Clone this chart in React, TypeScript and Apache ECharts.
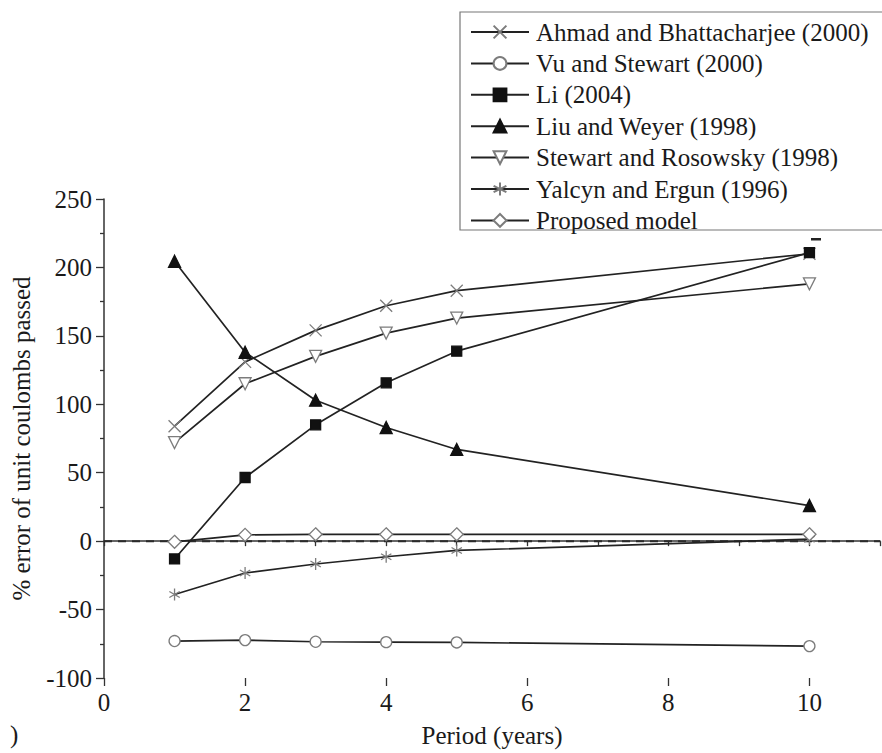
import React, { useEffect, useRef } from "react";
import * as echarts from "echarts";

const periods = [1, 2, 3, 4, 5, 10];
const ahmad = [84, 131, 154, 172, 183, 210];
const vuStewart = [-73, -72.3, -73.5, -73.8, -74, -76.7];
const li2004 = [-13, 46.5, 85, 115.7, 138.8, 210.8];
const liuWeyer = [204.5, 138, 103, 83, 67, 26];
const stewartRosowsky = [72, 115, 135, 152, 163, 188];
const yalcyn = [-39, -23.3, -16.7, -11.4, -6.8, 1.5];
const proposed = [-0.5, 4.6, 5, 5, 5, 5];
const zeroLineX = [0, 11];
const zeroLineY = [0, 0];

const seriesNames = [
  "Ahmad and Bhattacharjee (2000)",
  "Vu and Stewart (2000)",
  "Li (2004)",
  "Liu and Weyer (1998)",
  "Stewart and Rosowsky (1998)",
  "Yalcyn and Ergun (1996)",
  "Proposed model",
];
const xLabelValues = [0, 2, 4, 6, 8, 10];

const FONT = "'Liberation Serif', 'Times New Roman', serif";
const LINE = "#222";
const HOLLOW = "#7c7c7c";

const pairs = (ys: number[]) => periods.map((p, i) => [p, ys[i]]);

export default function App() {
  const ref = useRef<HTMLDivElement>(null);
  useEffect(() => {
    if (!ref.current) return;
    const chart = echarts.init(ref.current, null, { renderer: "svg" });

    const mk = (
      name: string,
      data: number[],
      symbol: string,
      size: number,
      fill: string,
      border: string,
      extra: any = {}
    ) => ({
      name,
      type: "line",
      data: pairs(data),
      symbol,
      symbolSize: size,
      symbolKeepAspect: true,
      showAllSymbol: true,
      lineStyle: { color: LINE, width: 1.7 },
      itemStyle: { color: fill, borderColor: border, borderWidth: 1.3 },
      emphasis: { disabled: true },
      z: 3,
      ...extra,
    });

    const option: any = {
      animation: false,
      textStyle: { fontFamily: FONT },
      grid: { left: 104, right: 2, top: 199, bottom: 73 },
      legend: {
        orient: "vertical",
        left: 460,
        top: 12,
        padding: [7.5, 20, 0, 10],
        itemGap: 6.4,
        itemWidth: 58,
        itemHeight: 16,
        selectedMode: false,
        borderWidth: 0,
        textStyle: {
          fontFamily: FONT,
          fontSize: 25,
          color: "#1a1a1a",
          padding: [0, 0, 0, 2],
        },
        data: seriesNames,
      },
      xAxis: [
        {
          type: "value",
          min: 0,
          max: 11,
          interval: 1,
          name: "Period (years)",
          nameLocation: "middle",
          nameGap: 45,
          nameTextStyle: { fontFamily: FONT, fontSize: 25, color: "#1a1a1a" },
          axisLine: { show: true, lineStyle: { color: "#333", width: 1.5 } },
          axisTick: { show: true, length: 5, lineStyle: { color: "#333", width: 1.3 } },
          axisLabel: {
            customValues: xLabelValues,
            fontFamily: FONT,
            fontSize: 25,
            color: "#1a1a1a",
            margin: 12,
          },
          splitLine: { show: false },
        },
        {
          type: "value",
          min: 0,
          max: 11,
          position: "bottom",
          axisLine: { show: false },
          axisTick: {
            show: true,
            customValues: xLabelValues,
            length: 8,
            lineStyle: { color: "#333", width: 1.3 },
          },
          axisLabel: { show: false },
          splitLine: { show: false },
        },
      ],
      yAxis: {
        type: "value",
        min: -100,
        max: 250,
        interval: 50,
        name: "% error of unit coulombs passed",
        nameLocation: "middle",
        nameGap: 70,
        nameTextStyle: { fontFamily: FONT, fontSize: 25, color: "#1a1a1a" },
        axisLine: { show: true, lineStyle: { color: "#333", width: 1.5 } },
        axisTick: { show: true, length: 8, lineStyle: { color: "#333", width: 1.3 } },
        minorTick: { show: true, splitNumber: 2, length: 4, lineStyle: { color: "#333", width: 1.3 } },
        axisLabel: { fontFamily: FONT, fontSize: 25, color: "#1a1a1a", margin: 12 },
        splitLine: { show: false },
      },
      series: [
        {
          name: "zero",
          type: "line",
          data: zeroLineX.map((x, i) => [x, zeroLineY[i]]),
          symbol: "none",
          lineStyle: { color: "#2a2a2a", width: 2, type: [8, 6] },
          emphasis: { disabled: true },
          silent: true,
          z: 1,
        },
        mk(seriesNames[0], ahmad, "path://M0,0L10,10M10,0L0,10", 12, "#fff", HOLLOW),
        mk(seriesNames[1], vuStewart, "circle", 11, "#fff", HOLLOW),
        mk(seriesNames[2], li2004, "rect", 10, "#111", "#111", { z: 5 }),
        mk(seriesNames[3], liuWeyer, "triangle", 12, "#111", "#111", { z: 5 }),
        mk(seriesNames[4], stewartRosowsky, "triangle", 12, "#fff", HOLLOW, { symbolRotate: 180 }),
        mk(
          seriesNames[5],
          yalcyn,
          "path://M5,0L5,10M0.67,2.5L9.33,7.5M9.33,2.5L0.67,7.5",
          12,
          "#fff",
          HOLLOW
        ),
        mk(seriesNames[6], proposed, "diamond", 13, "#fff", HOLLOW),
      ],
      graphic: [
        {
          type: "rect",
          z: 0,
          shape: { x: 460, y: 12, width: 440, height: 218 },
          style: { fill: "#fff", stroke: "#777", lineWidth: 1.2 },
        },
        {
          type: "text",
          left: 10,
          top: 722,
          style: { text: ")", font: `25px ${FONT}`, fill: "#1a1a1a" },
        },
        {
          type: "rect",
          shape: { x: 811, y: 238, width: 10, height: 2.5 },
          style: { fill: "#222" },
        },
      ],
    };

    chart.setOption(option);
    return () => chart.dispose();
  }, []);

  return (
    <div
      ref={ref}
      style={{ position: "fixed", left: 0, top: 0, width: 882, height: 753, background: "#fff" }}
    />
  );
}
